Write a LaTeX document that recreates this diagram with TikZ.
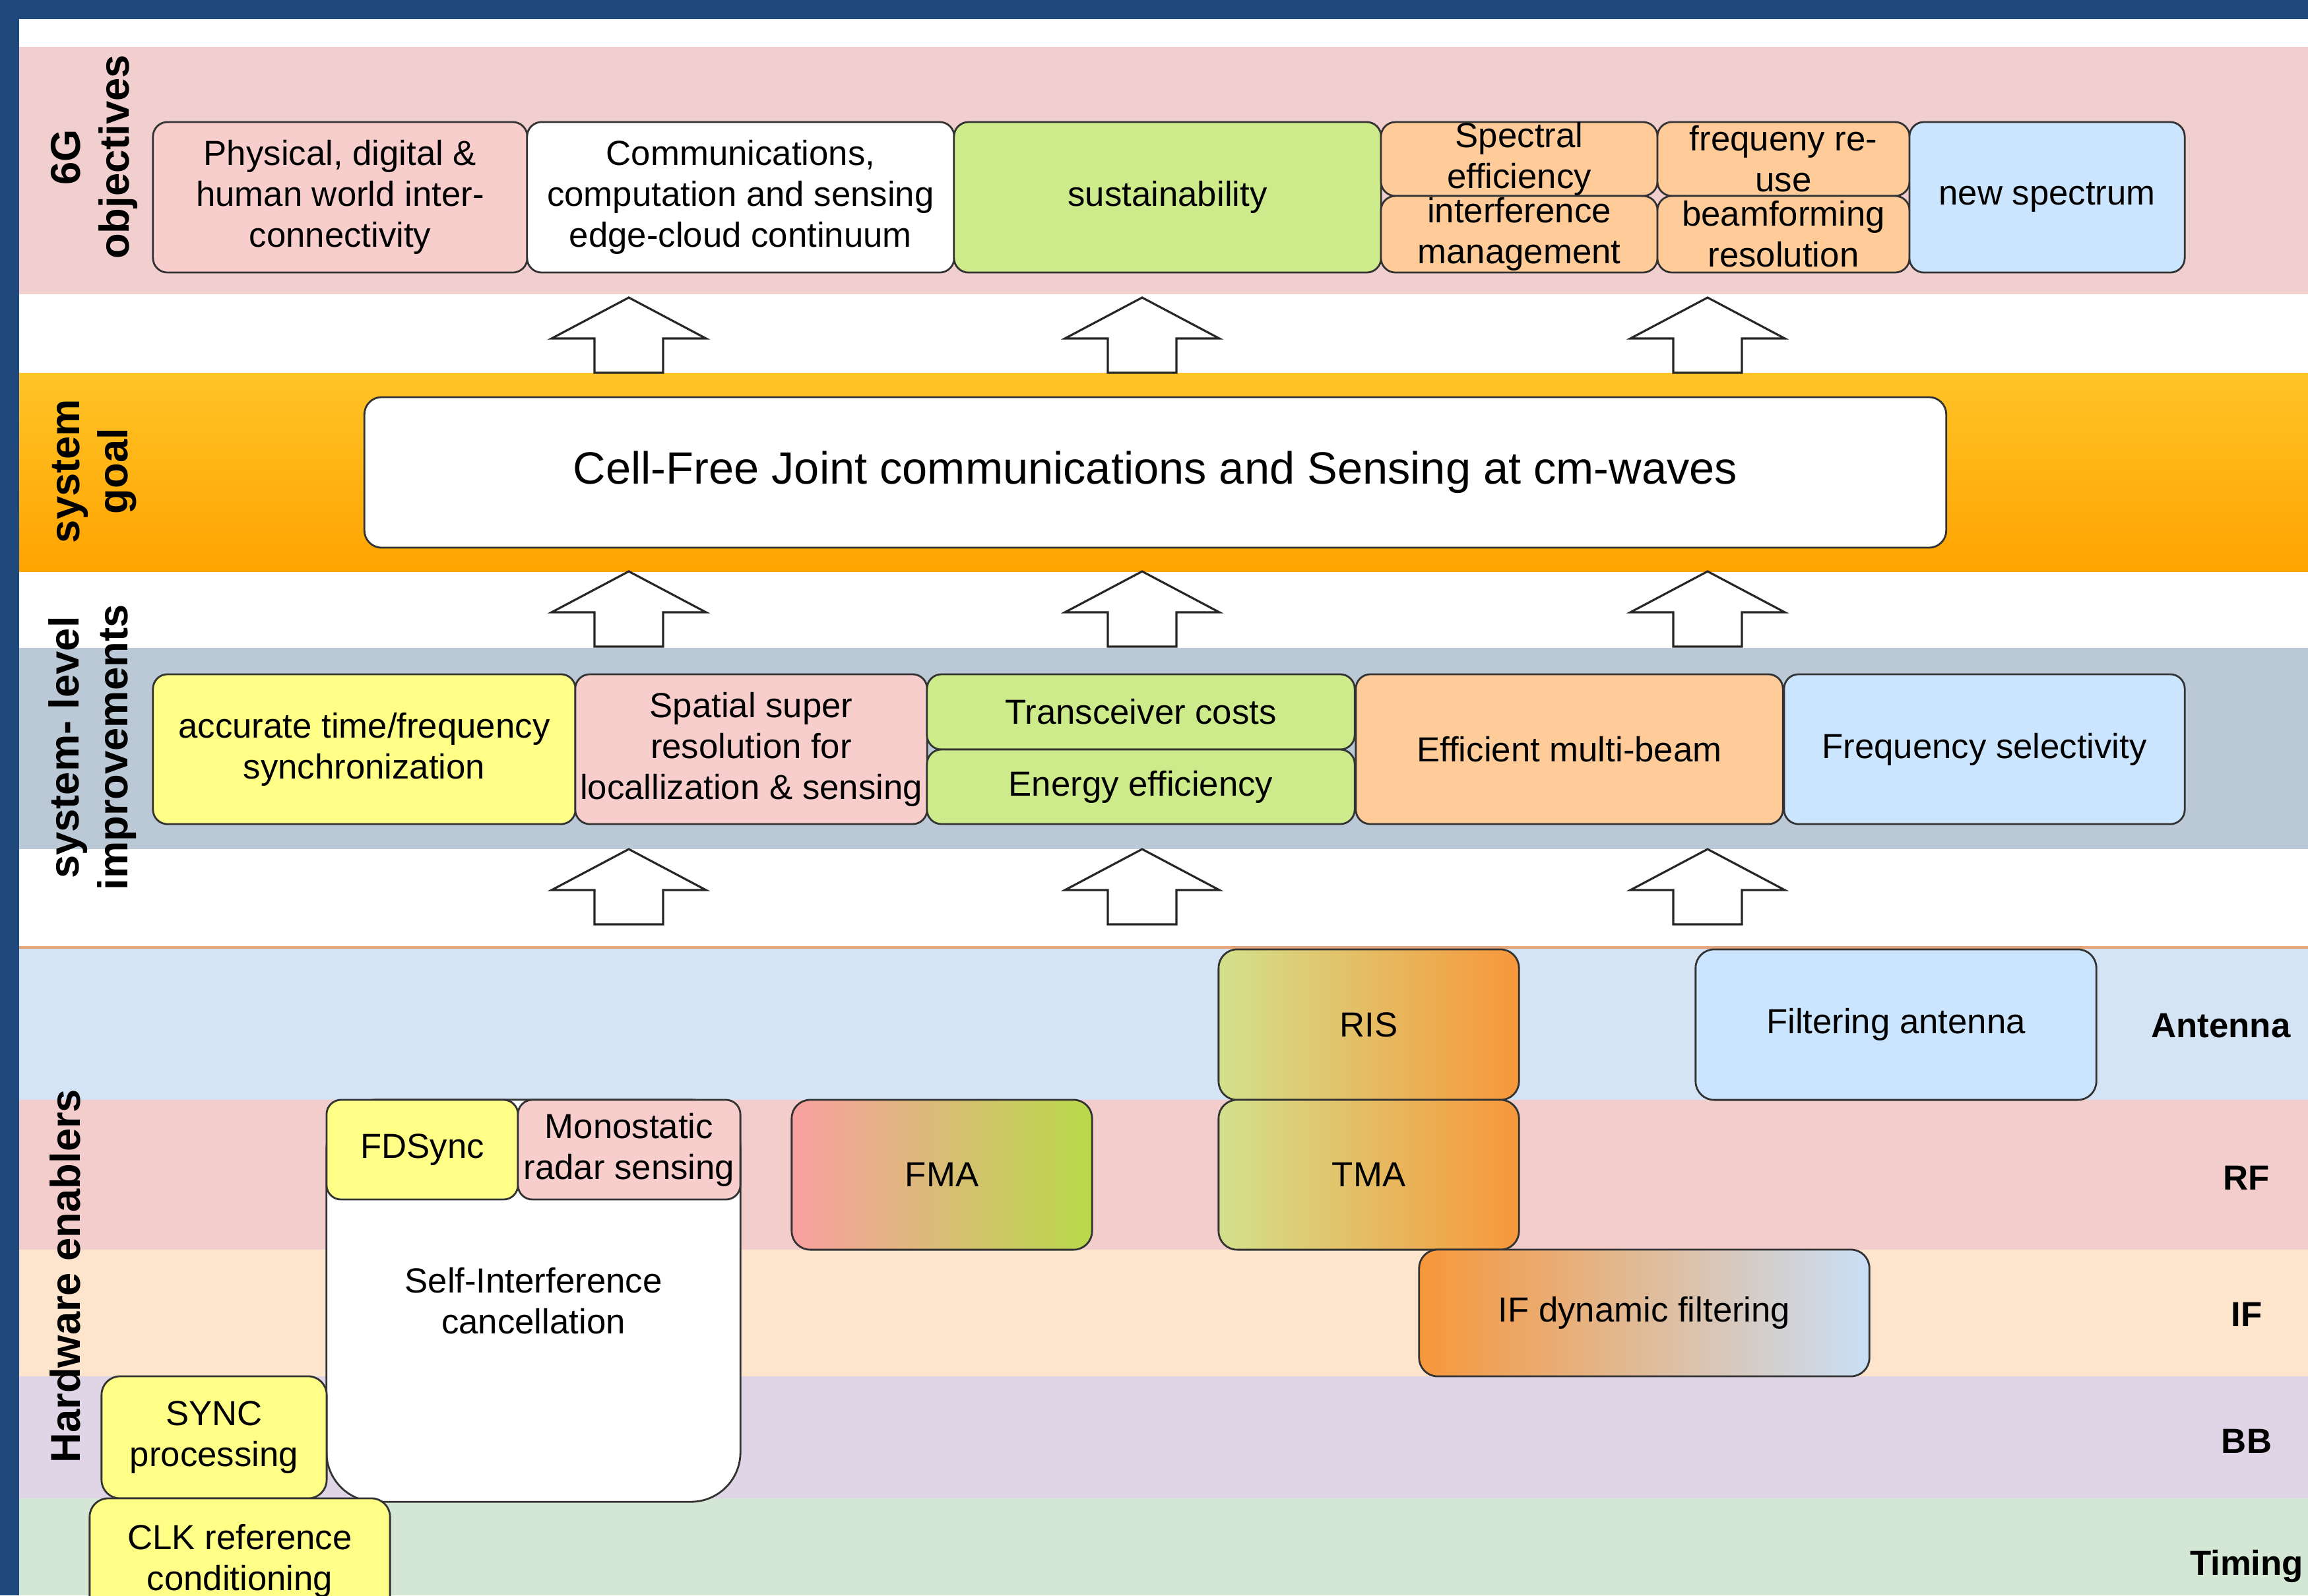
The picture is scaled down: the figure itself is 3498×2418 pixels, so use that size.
\documentclass[tikz,border=0pt]{standalone}
\usepackage{fontspec}
\setmainfont{Liberation Sans}

\definecolor{frameblue}{HTML}{1F497D}
\definecolor{bandpink}{HTML}{F2CFCF}
\definecolor{bandsteel}{HTML}{BBC9D6}
\definecolor{bandant}{HTML}{D5E4F5}
\definecolor{bandrf}{HTML}{F3CDCC}
\definecolor{bandif}{HTML}{FCE4CD}
\definecolor{bandbb}{HTML}{E0D5E7}
\definecolor{bandtim}{HTML}{D4E7D4}
\definecolor{goaltop}{HTML}{FFC428}
\definecolor{goalbot}{HTML}{FFA300}
\definecolor{lineorange}{HTML}{E3A57E}
\definecolor{bxpink}{HTML}{F8CECC}
\definecolor{bxgreen}{HTML}{CDEB8B}
\definecolor{bxorange}{HTML}{FFCC99}
\definecolor{bxblue}{HTML}{CCE5FF}
\definecolor{bxyellow}{HTML}{FFFF88}
\definecolor{gradlime}{HTML}{D3E18C}
\definecolor{gradorange}{HTML}{F7973A}
\definecolor{gradsalmon}{HTML}{F9A0A0}
\definecolor{gradgreen}{HTML}{B9D94A}
\definecolor{gradsky}{HTML}{C9DFF7}

\newcommand{\boxfont}{\fontsize{15pt}{17.6pt}\selectfont}
\newcommand{\goalfont}{\fontsize{19.5pt}{23pt}\selectfont}
\newcommand{\sidefont}{\fontsize{18pt}{21pt}\selectfont\bfseries}
\newcommand{\layerfont}{\fontsize{15pt}{18pt}\selectfont\bfseries}

\tikzset{
  box/.style={draw=black!80, line width=0.8pt, rounded corners=0.22cm, align=center, inner sep=0pt, font=\boxfont},
  hwbox/.style={box, rounded corners=0.28cm},
  sidelbl/.style={rotate=90, align=center, font=\sidefont},
  layerlbl/.style={font=\layerfont},
  blockarrow/.style={draw=black!85, fill=white, line width=0.9pt}
}

\begin{document}
\begin{tikzpicture}[x=0.01cm,y=-0.01cm]
\clip (0,0) rectangle (3498,2418);
\fill[frameblue] (0,0) rectangle (3498,2418);
\fill[white] (29,29) rectangle (3498,2418);

\fill[bandpink] (29,71) rectangle (3498,446);
\shade[top color=goaltop, bottom color=goalbot] (29,565) rectangle (3498,866);
\fill[bandsteel] (29,982) rectangle (3498,1287);
\fill[bandant] (29,1436) rectangle (3498,1667);
\fill[bandrf] (29,1667) rectangle (3498,1894);
\fill[bandif] (29,1894) rectangle (3498,2086);
\fill[bandbb] (29,2086) rectangle (3498,2271);
\fill[bandtim] (29,2271) rectangle (3498,2418);
\draw[lineorange, line width=1.1pt] (29,1436) -- (3498,1436);

\foreach \ax in {953,1731,2588}
  \foreach \ay in {451,866,1287}
    \draw[blockarrow] (\ax,\ay) -- ++(117,62) -- ++(-65,0) -- ++(0,52) -- ++(-104,0) -- ++(0,-52) -- ++(-65,0) -- cycle;

\node[sidelbl] (lobj) at (143,238) {6G\\objectives};
\node[sidelbl] (lgoal) at (143,714) {system\\goal};
\node[sidelbl] (limp) at (140,1133) {system- level\\improvements};
\node[sidelbl] (lhw) at (99,1934) {Hardware enablers};

\node[box, fill=bxpink, minimum width=5.67cm, minimum height=2.28cm] (phys) at (515.5,299) {Physical, digital \&\\human world inter-\\connectivity};
\node[box, fill=white, minimum width=6.47cm, minimum height=2.28cm] (comm) at (1122.5,299) {Communications,\\computation and sensing\\edge-cloud continuum};
\node[box, fill=bxgreen, minimum width=6.47cm, minimum height=2.28cm] (sust) at (1769.5,299) {sustainability};
\node[box, fill=bxorange, minimum width=4.19cm, minimum height=1.12cm] (speceff) at (2302.5,241) {Spectral\\efficiency};
\node[box, fill=bxorange, minimum width=4.19cm, minimum height=1.16cm] (intmgmt) at (2302.5,355) {interference\\management};
\node[box, fill=bxorange, minimum width=3.82cm, minimum height=1.12cm] (freqreuse) at (2703,241) {frequeny re-\\use};
\node[box, fill=bxorange, minimum width=3.82cm, minimum height=1.16cm] (beamres) at (2703,355) {beamforming\\resolution};
\node[box, fill=bxblue, minimum width=4.17cm, minimum height=2.28cm] (newspec) at (3102.5,299) {new spectrum};

\node[box, fill=white, rounded corners=0.26cm, font=\goalfont, minimum width=23.96cm, minimum height=2.28cm] (goal) at (1751,716) {Cell-Free Joint communications and Sensing at cm-waves};

\node[box, fill=bxyellow, minimum width=6.40cm, minimum height=2.27cm] (accsync) at (552,1135.5) {accurate time/frequency\\synchronization};
\node[box, fill=bxpink, minimum width=5.33cm, minimum height=2.27cm] (spatres) at (1138.5,1135.5) {Spatial super\\resolution for\\locallization \& sensing};
\node[box, fill=bxgreen, minimum width=6.48cm, minimum height=1.14cm] (trxcost) at (1729,1079) {Transceiver costs};
\node[box, fill=bxgreen, minimum width=6.48cm, minimum height=1.13cm] (energy) at (1729,1192.5) {Energy efficiency};
\node[box, fill=bxorange, minimum width=6.47cm, minimum height=2.27cm] (multibeam) at (2378.5,1135.5) {Efficient multi-beam};
\node[box, fill=bxblue, minimum width=6.07cm, minimum height=2.27cm] (freqsel) at (3007.5,1135.5) {Frequency selectivity};

\node[hwbox, left color=gradlime, right color=gradorange, minimum width=4.55cm, minimum height=2.28cm] (ris) at (2074.5,1553) {RIS};
\node[hwbox, left color=gradlime, right color=gradorange, minimum width=4.55cm, minimum height=2.27cm] (tma) at (2074.5,1780.5) {TMA};
\node[hwbox, fill=bxblue, minimum width=6.07cm, minimum height=2.28cm] (filtant) at (2873.5,1553) {Filtering antenna};
\node[hwbox, left color=gradsalmon, right color=gradgreen, minimum width=4.55cm, minimum height=2.27cm] (fma) at (1427.5,1780.5) {FMA};
\node[hwbox, left color=gradorange, right color=gradsky, minimum width=6.82cm, minimum height=1.92cm] (ifdyn) at (2492,1990) {IF dynamic filtering};

\node[hwbox, fill=white, rounded corners=0.75cm, minimum width=6.27cm, minimum height=6.09cm] (sic) at (808.5,1971.5) {Self-Interference\\cancellation};
\node[hwbox, fill=bxyellow, rounded corners=0.22cm, minimum width=2.90cm, minimum height=1.51cm] (fdsync) at (640,1742.5) {FDSync};
\node[hwbox, fill=bxpink, rounded corners=0.22cm, minimum width=3.37cm, minimum height=1.51cm] (mono) at (953.5,1742.5) {Monostatic\\radar sensing};
\node[hwbox, fill=bxyellow, minimum width=3.41cm, minimum height=1.85cm] (syncproc) at (324.5,2178.5) {SYNC\\processing};
\node[hwbox, fill=bxyellow, minimum width=4.55cm, minimum height=1.90cm] (clkref) at (363.5,2366) {CLK reference\\conditioning};

\node[layerlbl] (lant) at (3366,1555) {Antenna};
\node[layerlbl] (lrf) at (3405,1785) {RF};
\node[layerlbl] (lif) at (3405,1992) {IF};
\node[layerlbl] (lbb) at (3405,2184) {BB};
\node[layerlbl] (ltim) at (3405,2374) {Timing};
\end{tikzpicture}
\end{document}
